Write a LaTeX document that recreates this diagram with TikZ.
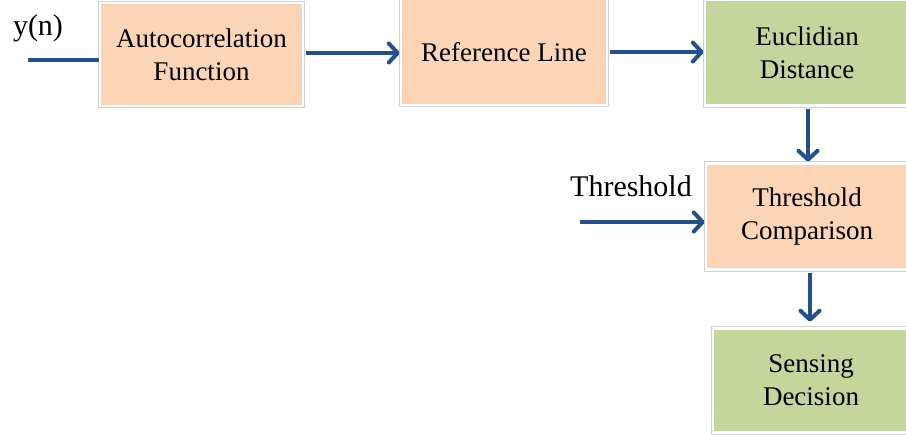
\documentclass[tikz,border=0pt]{standalone}
\usepackage{fontspec}
\setmainfont{Liberation Serif}
\usetikzlibrary{arrows.meta}
\definecolor{peach}{HTML}{FBD5B5}
\definecolor{leaf}{HTML}{C3D69B}
\definecolor{arrowblue}{HTML}{24508E}
\tikzset{
  blk/.style={rectangle, fill=#1, draw=white, line width=2.5pt,
    preaction={draw=black!18, line width=4.5pt},
    align=center, inner sep=0pt, text=black,
    font=\fontsize{27}{33}\selectfont},
  conn/.style={draw=arrowblue, line width=4pt},
  arr/.style={conn, -{Straight Barb[length=9pt,width=19pt,line cap=round,line join=round]}},
  lbl/.style={inner sep=0pt, font=\fontsize{30}{36}\selectfont, text=black}
}
\begin{document}
\begin{tikzpicture}[x=1pt,y=-1pt]
\useasboundingbox (0,0) rectangle (906,435);
\clip (0,0) rectangle (906,435);
\fill[white] (0,0) rectangle (906,435);
\node[blk=peach, minimum width=203pt, minimum height=103pt] (auto) at (201.5,54.5) {Autocorrelation\\Function};
\node[blk=peach, minimum width=206pt, minimum height=106pt] (ref) at (504,52) {Reference Line};
\node[blk=leaf, minimum width=204pt, minimum height=106pt] (euc) at (807,52.5) {Euclidian\\Distance};
\node[blk=peach, minimum width=202pt, minimum height=106pt] (thr) at (807,216.5) {Threshold\\Comparison};
\node[blk=leaf, minimum width=196pt, minimum height=104pt] (sen) at (811,380.5) {Sensing\\Decision};
\node[lbl] (ylab) at (38,28) {y(n)};
\node[lbl] (tlab) at (631,186) {Threshold};
\coordinate (yin) at (28,60);
\coordinate (tin) at (580,222);
\draw[conn] (yin) -- (yin -| auto.west);
\draw[arr] (auto.east |- 0,53) ++(2,0) -- (ref.west |- 0,53);
\draw[arr] (ref.east |- 0,52) ++(2,0) -- (euc.west |- 0,52);
\draw[arr] (euc.south) ++(1,2) -- ++(0,53);
\draw[arr] (tin) -- (tin -| thr.west);
\draw[arr] (thr.south) ++(3,2) -- ++(0,49);
\end{tikzpicture}
\end{document}
